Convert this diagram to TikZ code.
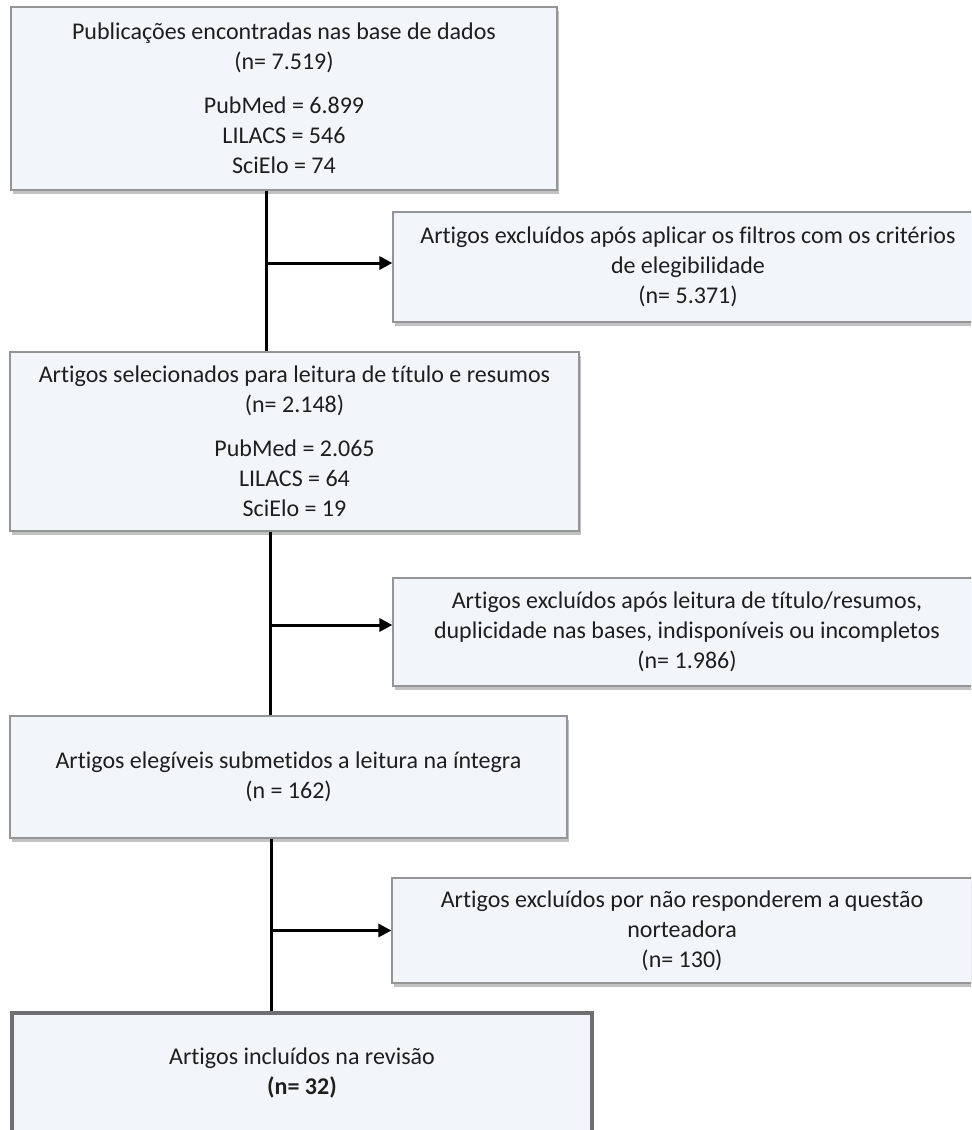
\documentclass[tikz,border=0pt]{standalone}
\usepackage{fontspec}
\setmainfont{Carlito}[Ligatures=NoCommon]
\usetikzlibrary{shadows,arrows.meta}
\definecolor{boxfill}{HTML}{F2F6FA}
\definecolor{boxline}{HTML}{959595}
\definecolor{finalline}{HTML}{6F6F6F}
\definecolor{txt}{HTML}{1E1E1E}
\begin{document}
\begin{tikzpicture}[x=0.5pt,y=-0.5pt,
  box/.style={draw=boxline, line width=0.6pt, fill=boxfill, inner sep=0pt,
    align=center, text=txt, font=\fontsize{12}{15}\selectfont,
    drop shadow={shadow xshift=1.2pt, shadow yshift=-2pt, opacity=0.4, fill=black!60}},
  finalbox/.style={box, draw=finalline, line width=2pt},
  conn/.style={line width=1.5pt, black},
  arr/.style={conn, -{Triangle[length=6.5pt,width=6.5pt]}}]
\useasboundingbox (0,0) rectangle (971,1130);
\clip (0,0) rectangle (971,1130);

\node[box, minimum width=273pt, minimum height=91.5pt] (b1) at (284,98.5)
  {Publicações encontradas nas base de dados\\(n= 7.519)\\[7pt]PubMed = 6.899\\LILACS = 546\\SciElo = 74};
\node[box, minimum width=295pt, minimum height=55pt] (e1) at (688,267)
  {Artigos excluídos após aplicar os filtros com os critérios\\de elegibilidade\\(n= 5.371)};
\node[box, minimum width=284.5pt, minimum height=89.5pt] (b2) at (294.5,441.5)
  {Artigos selecionados para leitura de título e resumos\\(n= 2.148)\\[7pt]PubMed = 2.065\\LILACS = 64\\SciElo = 19};
\node[box, minimum width=294pt, minimum height=54pt] (e2) at (687,632)
  {Artigos excluídos após leitura de título/resumos,\\duplicidade nas bases, indisponíveis ou incompletos\\(n= 1.986)};
\node[box, minimum width=278.5pt, minimum height=61pt] (b3) at (288.5,777)
  {Artigos elegíveis submetidos a leitura na íntegra\\(n = 162)};
\node[box, minimum width=290pt, minimum height=52.5pt] (e3) at (682,930.5)
  {Artigos excluídos por não responderem a questão\\norteadora\\(n= 130)};
\node[finalbox, minimum width=290pt, minimum height=60pt] (b4) at (302,1073)
  {Artigos incluídos na revisão\\\textbf{(n= 32)}};

\coordinate (l1) at (266,0);
\coordinate (l2) at (270,0);
\coordinate (l3) at (271,0);
\coordinate (t1) at ([yshift=2pt]e1.west);
\coordinate (t2) at ([yshift=3.5pt]e2.west);
\coordinate (t3) at (e3.west);

\draw[conn] (b1.south -| l1) -- (b2.north -| l1);
\draw[arr] (l1 |- t1) -- (t1);
\draw[conn] (b2.south -| l2) -- (b3.north -| l2);
\draw[arr] (l2 |- t2) -- (t2);
\draw[conn] (b3.south -| l3) -- (b4.north -| l3);
\draw[arr] (l3 |- t3) -- (t3);
\end{tikzpicture}
\end{document}
